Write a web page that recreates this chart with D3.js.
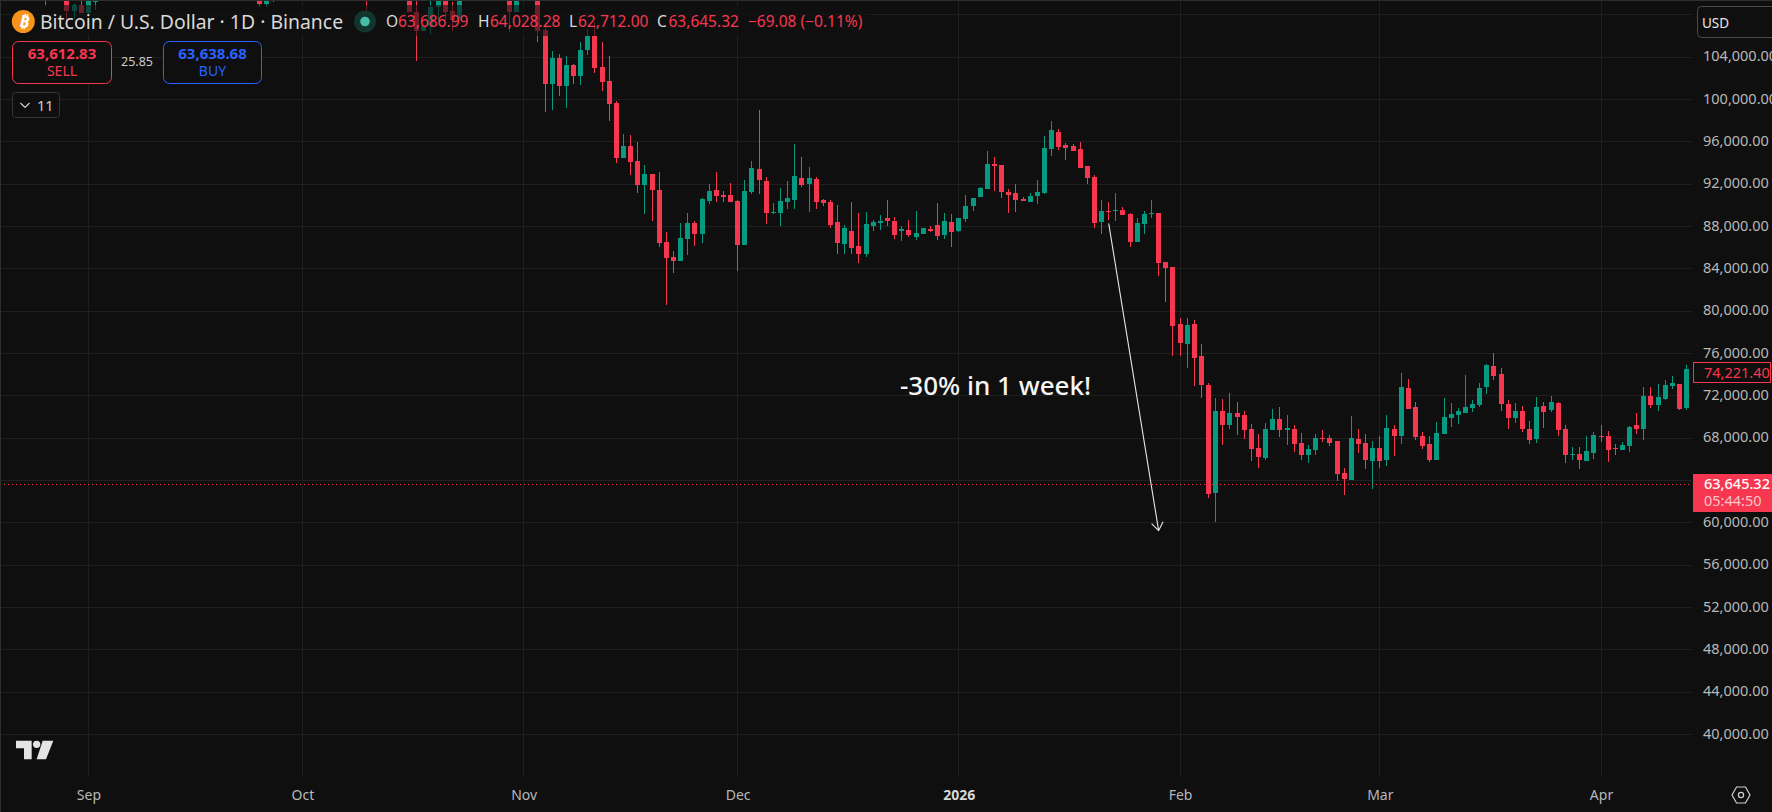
<!DOCTYPE html>
<html>
<head>
<meta charset="utf-8">
<script src="https://cdn.jsdelivr.net/npm/d3@7"></script>
<style>
html, body { margin: 0; padding: 0; background: #0f0f0f; overflow: hidden; }
text { font-family: "Noto Sans", sans-serif; }
</style>
</head>
<body>
<script>
// candles that only poke in from the top, then every day from Nov 3 on
var sparseDates = ["2025-08-26","2025-08-29","2025-08-30","2025-08-31","2025-09-01","2025-09-02","2025-09-25","2025-09-26","2025-09-27",
    "2025-10-10","2025-10-16","2025-10-17","2025-10-18","2025-10-19","2025-10-20","2025-10-21","2025-10-22","2025-10-23","2025-10-30","2025-10-31"];
var dates = sparseDates.map(function(d) { return new Date(d); })
    .concat(d3.utcDays(new Date("2025-11-03"), new Date("2026-04-14")));

var opens = [110100,112500,108380,108940,108190,109260,111000,109040,109640,
    121000,111000,108280,106490,106960,108750,110500,108380,107620,110000,108280,
    // nov
    110500,106580,101510,103930,101290,103270,102230,104690,106010,103080,101760,99680,94480,95620,94200,91930,92970,91460,86550,85130,84750,86830,88340,87300,90420,91460,90960,90990,
    // dec
    90420,86260,91270,93440,92310,89290,89290,90330,90520,92590,92030,92500,90520,90330,88440,86360,87590,86170,85410,88060,88340,88810,88530,87590,87680,87020,87300,87770,88150,87210,88440,
    // jan
    87590,88720,89950,90800,91550,93920,93820,91270,91180,90610,90330,90890,91180,95340,96940,95710,95620,95340,93730,92690,88440,89480,89500,89570,89190,86550,88250,89250,89290,84660,84180,
    // feb
    78800,76910,78800,75770,73030,62830,70580,69250,70390,70200,68880,67080,66130,68780,69820,68810,68880,67550,66420,66890,68020,68020,67740,64720,64060,67930,67550,65850,
    // mar
    67080,65950,68880,68210,72750,70950,68210,67460,65950,68400,69910,70200,70390,70860,71140,72840,74830,74070,71240,69910,70580,68880,67930,71050,70670,71330,68880,66430,66510,65850,66610,
    // apr
    68210,68210,67050,66890,67270,69250,68880,71990,71140,71710,72940,73130,70860];

var highs = [112300,112700,109040,109320,110400,111500,111500,109900,109950,
    122500,111500,109500,107000,109320,111000,114000,109230,110800,111500,110000,
    110800,107280,104600,104310,104120,103370,105450,106680,107370,105450,104120,99870,96750,96660,96000,93820,92970,93160,87490,85700,88340,89290,88530,90700,92030,93160,91370,92120,
    90520,92410,94200,99020,92690,90230,91650,92310,95810,94580,93630,92690,90610,90520,90040,88150,90330,89290,89380,88630,89100,90520,88910,88060,88630,89480,87870,88060,90230,89290,89190,
    88810,90990,90700,91740,95150,94580,93820,91550,92030,90800,91180,92410,96560,97980,97220,95900,95810,96000,93730,92880,90520,90330,91180,89850,89290,88810,89480,90520,89290,84660,84180,
    79360,79360,79180,76910,73220,71800,71710,72280,71430,70580,69350,68400,69440,70760,70950,70200,69250,68500,67360,68400,68780,68310,67740,65190,70100,68870,68400,67740,
    68210,70200,69250,74170,73600,71430,68590,68210,69540,71800,71330,70860,73980,71620,73220,75020,76060,74640,71620,71330,71050,69630,71900,71430,71990,71430,69250,67170,67170,68210,68590,
    69250,68690,67460,67650,69160,70390,72840,72840,73130,73510,73880,73130,74920];

var lows = [108850,107530,107620,108190,108000,108470,108750,108750,109230,
    107800,108280,103650,106490,106200,107430,107530,106490,107530,106390,108280,
    105480,98860,99020,100340,99210,101480,101380,104220,102520,100820,97980,94010,94480,92880,91180,89190,88530,86070,80590,83620,84750,85320,86170,86450,90140,90330,90330,90330,
    83810,86260,91080,91080,88250,89190,88060,89670,89670,91740,89380,89660,89950,87870,85410,85410,85410,84560,85130,87590,87680,88060,86830,86640,87020,86740,87300,87490,86740,86830,86070,
    87490,88440,89480,90800,91550,91370,90700,89290,89380,90420,90330,90140,91080,94670,95240,94300,95150,93540,92030,87870,87300,88630,88530,89100,86070,86550,87300,88810,83330,80880,75770,
    75770,74640,72940,71800,62350,60090,67360,68870,68310,67930,65850,65190,65950,68780,68120,67360,66700,65950,65660,66420,67650,67270,63960,62640,64060,66610,65090,63200,
    65190,65380,66320,67460,70770,67840,66980,65760,65950,68400,69060,69350,70390,70480,70950,72180,73510,70580,68880,69440,68590,67460,67550,68970,70480,68210,65660,65950,65090,65850,66040,
    67650,65760,66420,66890,66700,68400,67840,70860,70580,71620,72660,70670,70670];

var closes = [111800,108410,108940,108190,109800,111200,109040,109640,109900,
    113000,108280,106490,106960,108750,110500,108280,107530,110000,108280,109700,
    106490,101510,103930,101290,103270,102230,104690,106010,102990,101670,99590,94480,95620,94110,91930,92970,91460,86450,85030,84750,86920,88340,87300,90610,91370,90890,90830,90330,
    86260,91370,93540,92410,89290,89380,90420,90700,92780,91930,92590,90330,90230,88150,86450,87870,85980,85410,88250,88440,88530,88530,87210,87770,87210,87400,87870,87590,87110,88530,87490,
    88810,89950,90700,91650,93920,93730,91270,90990,90520,90420,90890,91270,95430,97130,95520,95430,95150,93540,92590,88340,89480,89410,89570,89100,86550,88340,89190,89300,84560,84090,78610,
    77000,78700,75580,73030,62730,70580,69250,70390,70010,68780,66980,66230,68880,69820,68780,68940,67460,66420,66980,68020,67960,67550,64620,64150,68020,67460,65950,67080,
    65850,68970,68210,72840,70770,68120,67270,65950,68500,70010,70290,70580,70950,71240,72750,74920,73880,71240,69910,70580,68880,67840,70950,70480,71430,68780,66420,66530,65950,66800,68310,
    68130,66890,66950,67360,69060,68880,71990,71140,71900,73030,73220,70770,74540];

var priceTicks = d3.range(104000, 39000, -4000);
var priceGrid = [108000].concat(priceTicks);
var monthTicks = ["2025-09-01","2025-10-01","2025-11-01","2025-12-01","2026-01-01","2026-02-01","2026-03-01","2026-04-01"].map(function(d) { return new Date(d); });
var monthLabels = ["Sep","Oct","Nov","Dec","2026","Feb","Mar","Apr"];
var lastPrice = 63645.32, markerPrice = 74221.40;
var arrowDates = ["2026-01-22","2026-01-29"], arrowPrices = [88300,59260];

var red = "#f7374f", green = "#089981", bg = "#0f0f0f", gridColor = "#1f1f1f", axisColor = "#b8b8b8";
var W = 1772, H = 812, paneRight = 1692, paneBottom = 777;

var x = d3.scaleUtc().domain([new Date("2025-09-01"), new Date("2026-04-01")]).range([88.4, 1601]);
var y = d3.scaleLinear().domain([104000, 40000]).range([57.3, 734.4]);

function px(v) { return Math.floor(x(v)) + 0.5; }

var svg = d3.select("body").append("svg").attr("width", W).attr("height", H).style("display", "block");
svg.append("rect").attr("width", W).attr("height", H).attr("fill", bg);
svg.append("defs").append("clipPath").attr("id", "pane").append("rect")
    .attr("x", 1).attr("y", 1).attr("width", paneRight - 1).attr("height", paneBottom - 1);

var pane = svg.append("g").attr("clip-path", "url(#pane)");

// grid
pane.selectAll(".hgrid").data(priceGrid).enter().append("line")
    .attr("x1", 0).attr("x2", paneRight)
    .attr("y1", function(d) { return Math.floor(y(d)) + 0.5; })
    .attr("y2", function(d) { return Math.floor(y(d)) + 0.5; })
    .attr("stroke", gridColor);
pane.selectAll(".vgrid").data(monthTicks).enter().append("line")
    .attr("x1", px).attr("x2", px)
    .attr("y1", 0).attr("y2", paneBottom)
    .attr("stroke", gridColor);

// candles
var idx = d3.range(dates.length);
function col(i) { return closes[i] >= opens[i] ? green : red; }
pane.selectAll(".wick").data(idx).enter().append("rect")
    .attr("x", function(i) { return px(dates[i]) - 0.5; })
    .attr("width", 1)
    .attr("y", function(i) { return Math.round(y(highs[i])); })
    .attr("height", function(i) { return Math.max(1, Math.round(y(lows[i])) - Math.round(y(highs[i]))); })
    .attr("fill", col);
pane.selectAll(".body").data(idx).enter().append("rect")
    .attr("x", function(i) { return px(dates[i]) - 2.5; })
    .attr("width", 5)
    .attr("y", function(i) { return Math.round(y(Math.max(opens[i], closes[i]))); })
    .attr("height", function(i) { return Math.max(1, Math.round(y(Math.min(opens[i], closes[i]))) - Math.round(y(Math.max(opens[i], closes[i])))); })
    .attr("fill", col);

// last price line
pane.append("line")
    .attr("x1", 0).attr("x2", paneRight)
    .attr("y1", Math.floor(y(lastPrice)) + 0.5).attr("y2", Math.floor(y(lastPrice)) + 0.5)
    .attr("stroke", red).attr("stroke-dasharray", "1 3");

// arrow drawing
var ax = arrowDates.map(function(d) { return x(new Date(d)); });
var ay = arrowPrices.map(y);
var ang = Math.atan2(ay[1] - ay[0], ax[1] - ax[0]);
var headLen = 10, headOff = 0.62;
pane.append("path")
    .attr("d", "M" + ax[0] + "," + ay[0] + "L" + ax[1] + "," + ay[1]
        + "M" + (ax[1] - headLen * Math.cos(ang - headOff)) + "," + (ay[1] - headLen * Math.sin(ang - headOff))
        + "L" + ax[1] + "," + ay[1]
        + "L" + (ax[1] - headLen * Math.cos(ang + headOff)) + "," + (ay[1] - headLen * Math.sin(ang + headOff)))
    .attr("fill", "none").attr("stroke", "#e6e6e6").attr("stroke-width", 1.1);
pane.append("text").attr("x", 900).attr("y", 395)
    .attr("fill", "#f5f5f5").attr("font-size", 26).attr("font-weight", 500).text("-30% in 1 week!");

// border
svg.append("line").attr("x1", 0).attr("x2", W).attr("y1", 0.5).attr("y2", 0.5).attr("stroke", "#2e2e2e");
svg.append("line").attr("x1", 0.5).attr("x2", 0.5).attr("y1", 0).attr("y2", H).attr("stroke", "#2e2e2e");

// price axis
var yAxis = svg.append("g").attr("transform", "translate(" + (paneRight + 3) + ",-1)")
    .call(d3.axisRight(y).tickValues(priceTicks).tickSize(0).tickPadding(8).tickFormat(d3.format(",.2f")));
yAxis.select(".domain").remove();
yAxis.selectAll("text").attr("fill", axisColor).attr("font-size", 14.5).style("font-family", '"Noto Sans", sans-serif');

// time axis
var xAxis = svg.append("g").attr("transform", "translate(0," + paneBottom + ")")
    .call(d3.axisBottom(x).tickValues(monthTicks).tickSize(0).tickPadding(13)
        .tickFormat(function(d, i) { return monthLabels[i]; }));
xAxis.select(".domain").remove();
xAxis.selectAll("text").attr("fill", axisColor).attr("font-size", 14).style("font-family", '"Noto Sans", sans-serif')
    .attr("font-weight", function(d, i) { return monthLabels[i] == "2026" ? "bold" : "normal"; })
    .attr("fill", function(d, i) { return monthLabels[i] == "2026" ? "#d8d8d8" : axisColor; });

// last price tag
svg.append("rect").attr("x", 1693).attr("y", 474).attr("width", 79).attr("height", 38).attr("fill", red);
svg.append("text").attr("x", 1704).attr("y", 489).attr("fill", "#fff").attr("font-size", 14.5).attr("font-weight", 500).text("63,645.32");
svg.append("text").attr("x", 1704).attr("y", 506).attr("fill", "#fdc5cc").attr("font-size", 14.5).text("05:44:50");

// the 74,221.40 box
svg.append("rect").attr("x", 1693.5).attr("y", 362.5).attr("width", 77).attr("height", 20)
    .attr("fill", bg).attr("stroke", red);
svg.append("text").attr("x", 1704).attr("y", 378).attr("fill", red).attr("font-size", 14.5).text(d3.format(",.2f")(markerPrice));

// USD box
svg.append("rect").attr("x", 1697.5).attr("y", 6.5).attr("width", 90).attr("height", 31).attr("rx", 4)
    .attr("fill", bg).attr("stroke", "#4a4a4a");
svg.append("text").attr("x", 1702).attr("y", 27.5).attr("fill", "#e8e8e8").attr("font-size", 13.5).text("USD");

// legend backdrop, candles show through dimmed
svg.append("rect").attr("x", 10).attr("y", 5).attr("width", 860).attr("height", 31)
    .attr("fill", bg).attr("opacity", 0.6);

// legend
svg.append("circle").attr("cx", 23.3).attr("cy", 21.5).attr("r", 11.5).attr("fill", "#f7931a");
svg.append("text").attr("text-anchor", "middle").attr("transform", "translate(23.3,27.5) rotate(14)")
    .attr("fill", "#fff").attr("font-size", 17).attr("font-weight", "bold").text("₿");
svg.append("text").attr("x", 40).attr("y", 29).attr("fill", "#d8d8d8").attr("font-size", 19.4)
    .text("Bitcoin / U.S. Dollar · 1D · Binance");
svg.append("circle").attr("cx", 365).attr("cy", 21.5).attr("r", 11).attr("fill", "#12352e");
svg.append("circle").attr("cx", 365).attr("cy", 21.5).attr("r", 4.8).attr("fill", "#42bda8");

var legendText = [
    [386, "O", "#d8d8d8"], [398, "63,686.99", red],
    [478, "H", "#d8d8d8"], [490, "64,028.28", red],
    [569, "L", "#d8d8d8"], [578, "62,712.00", red],
    [657, "C", "#d8d8d8"], [668.5, "63,645.32", red],
    [748, "−69.08 (−0.11%)", red]
];
svg.selectAll(".legend").data(legendText).enter().append("text")
    .attr("x", function(d) { return d[0]; }).attr("y", 27)
    .attr("fill", function(d) { return d[2]; }).attr("font-size", 15.5)
    .text(function(d) { return d[1]; });

// sell / buy
function tradeBox(bx, w, colour, price, label) {
    svg.append("rect").attr("x", bx).attr("y", 41.5).attr("width", w).attr("height", 42).attr("rx", 6)
        .attr("fill", bg).attr("stroke", colour);
    svg.append("text").attr("x", bx + w / 2).attr("y", 59).attr("text-anchor", "middle")
        .attr("fill", colour).attr("font-size", 15).attr("font-weight", "bold").text(price);
    svg.append("text").attr("x", bx + w / 2).attr("y", 76).attr("text-anchor", "middle")
        .attr("fill", colour).attr("font-size", 14).text(label);
}
tradeBox(12.5, 99, red, "63,612.83", "SELL");
tradeBox(163.5, 98, "#2962ff", "63,638.68", "BUY");
svg.append("text").attr("x", 137).attr("y", 66).attr("text-anchor", "middle")
    .attr("fill", "#cccccc").attr("font-size", 12.5).text("25.85");

// collapsed indicators button
svg.append("rect").attr("x", 12.5).attr("y", 92.5).attr("width", 47).attr("height", 25).attr("rx", 3)
    .attr("fill", bg).attr("stroke", "#363636");
svg.append("path").attr("d", "M20.5,103L25,107.5L29.5,103").attr("fill", "none").attr("stroke", "#cfcfcf").attr("stroke-width", 1.2);
svg.append("text").attr("x", 37).attr("y", 110.5).attr("fill", "#cfcfcf").attr("font-size", 14.5).text("11");

// logo, drawn from the zoomed shape
var logo = svg.append("g").attr("transform", "translate(0,720) scale(0.3333)").attr("fill", "#e4e4e4");
logo.append("path").attr("d", "M48,62H95V118H72V85H48Z");
logo.append("circle").attr("cx", 110).attr("cy", 73).attr("r", 11);
logo.append("path").attr("d", "M128,62H160L138,118H110Z");

// settings hexagon
svg.append("path").attr("d", "M1732,795L1736.5,787H1745.5L1750,795L1745.5,803H1736.5Z")
    .attr("fill", "none").attr("stroke", "#d0d0d0").attr("stroke-width", 1.2);
svg.append("circle").attr("cx", 1741).attr("cy", 795).attr("r", 2.6)
    .attr("fill", "none").attr("stroke", "#d0d0d0").attr("stroke-width", 1.2);
</script>
</body>
</html>
